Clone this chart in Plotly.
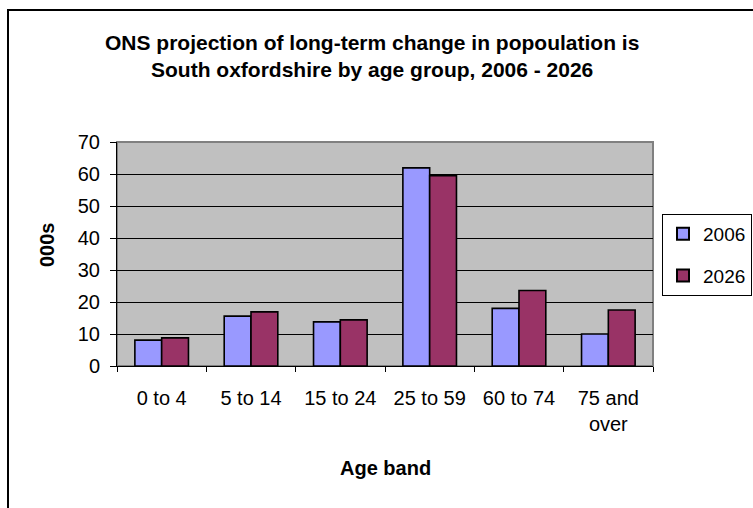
import plotly.graph_objects as go

# Population by age band, thousands
age_bands = ["0 to 4", "5 to 14", "15 to 24", "25 to 59", "60 to 74", "75 and<br>over"]
pop_2006 = [8.1, 15.6, 13.8, 61.9, 18.0, 10.0]
pop_2026 = [8.8, 16.9, 14.4, 59.5, 23.6, 17.5]
y_ticks = [0, 10, 20, 30, 40, 50, 60, 70]

W, H = 753, 508
L, R, T, B = 117, 100, 142, 142
pw, ph = W - L - R, H - T - B

def px_x(x):
    return (x - L) / pw

def px_y(y):
    return (H - B - y) / ph

FONT = "Liberation Sans, Arial, sans-serif"

fig = go.Figure()
fig.add_trace(go.Bar(name="2006", x=age_bands, y=pop_2006, legendgroup="a",
                     marker=dict(color="#9999FF", line=dict(color="black", width=1.6))))
fig.add_trace(go.Bar(name="2026", x=age_bands, y=pop_2026, legendgroup="b",
                     marker=dict(color="#993366", line=dict(color="black", width=1.6))))

fig.update_layout(
    width=W, height=H,
    margin=dict(l=L, r=R, t=T, b=B, autoexpand=False),
    paper_bgcolor="white",
    plot_bgcolor="#C0C0C0",
    font=dict(family=FONT, size=20, color="black"),
    barmode="group",
    bargap=0.4,
    bargroupgap=0,
    showlegend=True,
    legend=dict(
        x=px_x(752), y=px_y(214), xanchor="right", yanchor="top",
        bordercolor="black", borderwidth=1, bgcolor="white",
        font=dict(size=19), itemsizing="constant", itemwidth=30,
        tracegroupgap=14,
    ),
    xaxis=dict(
        showline=True, linecolor="black", linewidth=1,
        ticks="outside", ticklen=5, tickcolor="black",
        tickson="boundaries", showgrid=False,
        tickfont=dict(size=20), ticklabelstandoff=14,
    ),
    yaxis=dict(
        range=[0, 70], tickvals=y_ticks,
        showline=True, linecolor="black", linewidth=1,
        ticks="outside", ticklen=6, tickcolor="black",
        showgrid=True, gridcolor="black", gridwidth=1,
        tickfont=dict(size=20), ticklabelstandoff=6,
        zeroline=False,
    ),
    shapes=[
        # plot area frame on the top and right
        dict(type="rect", xref="paper", yref="paper", x0=0, y0=0, x1=1, y1=1,
             line=dict(color="#808080", width=2), layer="below"),
        # outer chart border
        dict(type="rect", xref="paper", yref="paper",
             x0=px_x(8), y0=px_y(520), x1=px_x(770), y1=px_y(10),
             line=dict(color="black", width=2)),
    ],
    annotations=[
        dict(text="<b>ONS projection of long-term change in popoulation is<br>"
                  "South oxfordshire by age group, 2006 - 2026</b>",
             xref="paper", yref="paper", x=px_x(372), y=px_y(56),
             xanchor="center", yanchor="middle", showarrow=False,
             font=dict(size=21), align="center"),
        dict(text="<b>Age band</b>", xref="paper", yref="paper",
             x=px_x(385), y=px_y(468), xanchor="center", yanchor="middle",
             showarrow=False, font=dict(size=20)),
        dict(text="<b>000s</b>", xref="paper", yref="paper",
             x=px_x(47), y=px_y(245), xanchor="center", yanchor="middle",
             showarrow=False, textangle=-90, font=dict(size=20)),
    ],
)

fig.write_html("out.html")
